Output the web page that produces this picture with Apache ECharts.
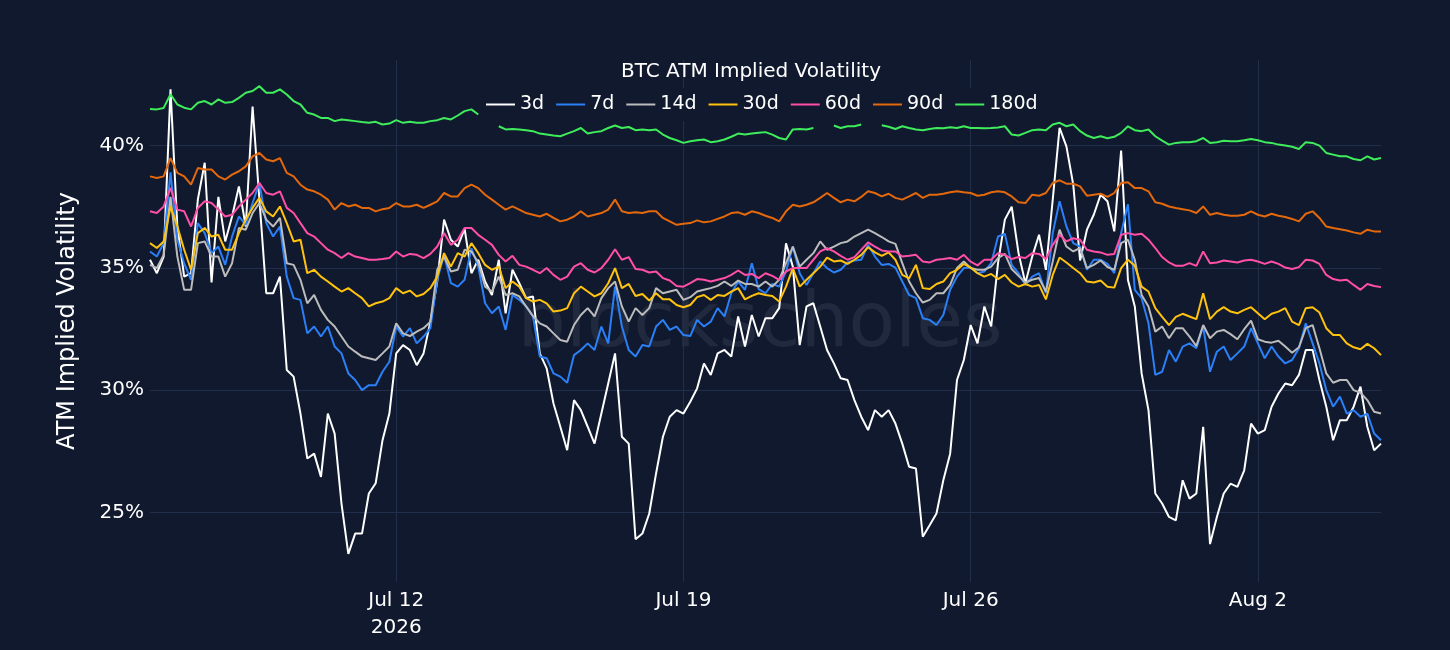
<!DOCTYPE html>
<html lang="en">
<head>
<meta charset="UTF-8">
<title>BTC ATM Implied Volatility</title>
<script src="https://cdn.jsdelivr.net/npm/echarts@6.0.0/dist/echarts.min.js"></script>
<style>
    html, body {
        margin: 0;
        padding: 0;
        background: #10192d;
    }
    #main {
        width: 1450px;
        height: 650px;
    }
</style>
</head>
<body>
<div id="main"></div>
<script type="text/javascript">
    // samples every 4 hours, 2026-07-06 00:00 -> 2026-08-05 00:00
    const startTime = new Date(2026, 6, 6).getTime();
    const stepMs = 4 * 3600 * 1000;

    const tenors = ['3d', '7d', '14d', '30d', '60d', '90d', '180d'];

    const iv3d = [
        35.33, 34.78, 35.46, 42.30, 36.69, 34.64, 34.78, 37.80, 39.30, 34.40,
        37.90, 36.08, 37.10, 38.33, 36.69, 41.60, 37.79, 33.96, 33.96, 34.64,
        30.82, 30.55, 29.04, 27.20, 27.40, 26.45, 29.04, 28.22, 25.36, 23.30,
        24.13, 24.13, 25.77, 26.19, 27.95, 29.04, 31.50, 31.84, 31.64, 31.02,
        31.50, 32.80, 34.44, 36.97, 36.15, 35.87, 36.60, 34.78, 35.33, 34.44,
        33.89, 35.33, 33.14, 34.92, 34.37, 33.76, 33.83, 31.50, 30.89, 29.45,
        28.50, 27.54, 29.59, 29.18, 28.50, 27.81, 29.04, 30.27, 31.50, 28.09,
        27.81, 23.90, 24.13, 24.95, 26.59, 28.09, 28.91, 29.18, 29.04, 29.52,
        30.07, 31.09, 30.62, 31.50, 31.64, 31.37, 33.01, 31.78, 33.07, 32.19,
        32.94, 32.94, 33.35, 36.00, 35.05, 31.84, 33.42, 33.55, 32.60, 31.64,
        31.09, 30.48, 30.41, 29.59, 28.91, 28.36, 29.18, 28.91, 29.18, 28.63,
        27.81, 26.86, 26.79, 24.00, 24.47, 24.95, 26.31, 27.40, 30.41, 31.23,
        32.66, 31.91, 33.42, 32.60, 35.19, 36.97, 37.50, 35.60, 34.37, 35.46,
        36.35, 34.92, 37.79, 40.72, 39.97, 38.40, 35.30, 36.56, 37.17, 37.99,
        37.72, 36.49, 39.80, 34.50, 33.42, 30.68, 29.18, 25.77, 25.36, 24.81,
        24.67, 26.31, 25.56, 25.77, 28.50, 23.70, 24.81, 25.77, 26.17, 26.04,
        26.72, 28.63, 28.22, 28.36, 29.32, 29.86, 30.27, 30.20, 30.62, 31.64,
        31.64, 30.41, 29.32, 27.95, 28.77, 28.77, 29.32, 30.14, 28.50, 27.54,
        27.81
    ];
    const iv7d = [
        35.67, 35.46, 36.01, 38.90, 36.15, 35.18, 34.51, 36.83, 36.42, 35.60,
        35.87, 35.12, 36.28, 37.10, 36.76, 37.65, 38.47, 36.83, 36.28, 36.69,
        34.64, 33.76, 33.69, 32.32, 32.60, 32.19, 32.60, 31.78, 31.50, 30.68,
        30.41, 30.00, 30.20, 30.20, 30.75, 31.16, 32.60, 32.19, 32.53, 31.91,
        32.19, 32.53, 34.51, 35.53, 34.37, 34.23, 34.51, 35.80, 35.05, 33.55,
        33.14, 33.42, 32.46, 33.89, 33.69, 33.42, 33.01, 31.37, 31.30, 30.68,
        30.55, 30.30, 31.43, 31.64, 31.91, 31.64, 32.60, 31.91, 34.23, 32.60,
        31.64, 31.37, 31.84, 31.78, 32.60, 32.87, 32.46, 32.60, 32.25, 32.21,
        32.87, 32.60, 32.80, 33.35, 33.01, 33.96, 34.44, 34.10, 35.19, 34.13,
        33.96, 34.34, 34.23, 34.85, 35.87, 34.78, 34.30, 34.78, 35.26, 34.99,
        34.81, 34.92, 35.22, 35.30, 35.33, 35.94, 35.46, 35.12, 35.16, 35.01,
        34.44, 33.89, 33.76, 32.94, 32.87, 32.66, 33.07, 34.10, 34.64, 34.99,
        35.01, 34.78, 34.85, 35.19, 36.28, 36.39, 35.12, 34.78, 34.30, 34.64,
        34.78, 33.96, 36.42, 37.72, 36.69, 36.01, 35.87, 34.92, 35.33, 35.33,
        35.16, 34.78, 36.42, 37.60, 34.10, 33.76, 32.73, 30.62, 30.75, 31.64,
        31.16, 31.78, 31.91, 31.71, 32.60, 30.75, 31.57, 31.78, 31.23, 31.50,
        31.78, 32.53, 31.91, 31.30, 31.78, 31.37, 31.09, 31.23, 31.71, 32.73,
        31.91, 31.09, 30.00, 29.32, 29.73, 29.04, 29.18, 28.91, 29.04, 28.22,
        27.95
    ];
    const iv14d = [
        35.12, 34.99, 35.53, 37.90, 35.46, 34.10, 34.10, 36.01, 36.08, 35.46,
        35.46, 34.64, 35.19, 36.63, 36.56, 37.24, 37.65, 36.97, 36.69, 37.04,
        35.19, 35.12, 34.51, 33.55, 33.89, 33.28, 32.87, 32.60, 32.19, 31.78,
        31.57, 31.37, 31.30, 31.23, 31.50, 31.78, 32.73, 32.32, 32.21, 32.39,
        32.53, 32.80, 34.92, 35.46, 34.85, 34.92, 35.74, 35.67, 35.22, 34.23,
        34.03, 34.64, 33.89, 33.96, 33.83, 33.42, 33.03, 32.73, 32.60, 32.32,
        32.05, 31.98, 32.66, 33.07, 33.35, 33.01, 33.76, 34.17, 34.44, 33.42,
        32.80, 33.35, 33.07, 33.35, 34.17, 33.96, 34.03, 34.10, 33.69, 33.80,
        34.03, 34.10, 34.17, 34.26, 34.44, 34.26, 34.48, 34.34, 34.34, 34.23,
        34.44, 34.23, 34.51, 35.19, 35.87, 35.05, 35.33, 35.60, 36.08, 35.74,
        35.87, 36.01, 36.08, 36.28, 36.42, 36.56, 36.42, 36.26, 36.08, 35.98,
        35.19, 34.44, 33.96, 33.58, 33.69, 33.96, 33.96, 34.30, 34.99, 35.26,
        34.99, 34.92, 34.92, 35.05, 35.40, 35.57, 34.95, 34.67, 34.40, 34.51,
        34.58, 34.03, 35.26, 36.56, 35.87, 35.67, 35.81, 34.99, 35.12, 35.30,
        35.03, 34.92, 36.01, 36.15, 35.33, 33.89, 33.42, 32.39, 32.60, 32.12,
        32.53, 32.53, 32.19, 31.80, 32.66, 32.12, 32.39, 32.46, 32.29, 32.08,
        32.49, 32.84, 32.08, 31.98, 31.94, 32.02, 31.78, 31.53, 31.75, 32.53,
        32.66, 31.71, 30.68, 30.30, 30.41, 30.41, 30.00, 29.89, 29.59, 29.11,
        29.04
    ];
    const iv30d = [
        36.01, 35.81, 36.08, 37.50, 36.70, 35.74, 34.92, 36.42, 36.63, 36.28,
        36.35, 35.74, 35.74, 36.42, 36.97, 37.45, 37.86, 37.31, 37.10, 37.51,
        36.83, 36.08, 36.15, 34.78, 34.92, 34.64, 34.44, 34.23, 34.03, 34.17,
        33.96, 33.76, 33.42, 33.55, 33.62, 33.76, 34.17, 33.96, 34.07, 33.83,
        33.93, 34.17, 34.64, 35.60, 35.05, 35.60, 35.46, 36.01, 35.60, 35.12,
        34.92, 35.05, 34.17, 34.44, 34.23, 33.76, 33.62, 33.69, 33.55, 33.21,
        33.25, 33.35, 33.96, 34.23, 34.03, 33.83, 33.96, 34.37, 34.99, 34.17,
        34.34, 33.85, 33.93, 33.66, 33.96, 33.71, 33.71, 33.48, 33.39, 33.48,
        33.80, 33.89, 33.69, 33.89, 33.85, 34.03, 34.17, 33.71, 33.85, 33.96,
        33.89, 33.85, 33.62, 34.23, 34.99, 34.23, 34.51, 34.78, 35.05, 35.42,
        35.26, 35.30, 35.16, 35.33, 35.53, 35.84, 35.63, 35.49, 35.63, 35.33,
        34.71, 34.57, 35.12, 34.17, 34.13, 34.34, 34.44, 34.78, 34.92, 35.16,
        35.01, 34.78, 34.64, 34.75, 34.54, 34.71, 34.40, 34.23, 34.34, 34.23,
        34.30, 33.71, 34.71, 35.42, 35.22, 34.99, 34.78, 34.44, 34.40, 34.48,
        34.23, 34.19, 34.99, 35.33, 35.08, 34.23, 34.03, 33.35, 32.99, 32.66,
        32.99, 33.12, 33.01, 32.90, 33.96, 32.90, 33.21, 33.39, 33.21, 33.14,
        33.28, 33.39, 33.14, 32.90, 33.12, 33.21, 33.35, 32.80, 32.66, 33.35,
        33.39, 33.17, 32.53, 32.25, 32.25, 31.91, 31.75, 31.67, 31.89, 31.71,
        31.43
    ];
    const iv60d = [
        37.31, 37.24, 37.51, 38.27, 37.38, 37.31, 36.69, 37.45, 37.72, 37.65,
        37.38, 37.10, 37.17, 37.51, 37.79, 38.06, 38.47, 38.06, 37.99, 38.13,
        37.45, 37.24, 36.83, 36.42, 36.28, 36.01, 35.74, 35.60, 35.40, 35.60,
        35.46, 35.40, 35.33, 35.33, 35.36, 35.40, 35.67, 35.46, 35.57, 35.53,
        35.40, 35.57, 35.87, 36.42, 35.94, 36.15, 36.63, 36.63, 36.35, 36.15,
        35.94, 35.53, 35.26, 35.49, 35.12, 35.05, 34.92, 34.78, 34.99, 34.71,
        34.51, 34.64, 35.05, 35.19, 34.92, 34.81, 34.99, 35.33, 35.76, 35.33,
        35.44, 34.95, 34.92, 34.81, 34.85, 34.58, 34.48, 34.26, 34.23, 34.37,
        34.54, 34.51, 34.44, 34.51, 34.58, 34.71, 34.89, 34.71, 34.75, 34.58,
        34.78, 34.67, 34.51, 34.85, 34.99, 34.99, 34.99, 35.33, 35.67, 35.80,
        35.67, 35.49, 35.33, 35.44, 35.74, 36.04, 35.87, 35.71, 35.67, 35.67,
        35.46, 35.49, 35.53, 35.26, 35.22, 35.33, 35.36, 35.40, 35.33, 35.53,
        35.25, 35.10, 35.33, 35.33, 35.60, 35.53, 35.36, 35.44, 35.40, 35.60,
        35.57, 35.36, 35.94, 36.35, 36.08, 36.21, 36.15, 35.74, 35.67, 35.63,
        35.53, 35.57, 36.35, 36.42, 36.35, 36.39, 36.15, 35.81, 35.44, 35.22,
        35.08, 35.08, 35.19, 35.08, 35.67, 35.19, 35.22, 35.30, 35.26, 35.22,
        35.30, 35.33, 35.26, 35.16, 35.26, 35.16, 35.01, 34.95, 35.03, 35.33,
        35.30, 35.16, 34.71, 34.54, 34.48, 34.51, 34.30, 34.10, 34.34, 34.26,
        34.21
    ];
    const iv90d = [
        38.74, 38.67, 38.74, 39.49, 38.88, 38.74, 38.40, 39.08, 39.02, 39.02,
        38.74, 38.61, 38.81, 38.95, 39.15, 39.56, 39.70, 39.43, 39.36, 39.49,
        38.88, 38.74, 38.40, 38.20, 38.13, 37.99, 37.79, 37.38, 37.65, 37.51,
        37.58, 37.45, 37.45, 37.31, 37.40, 37.45, 37.65, 37.51, 37.51, 37.58,
        37.45, 37.58, 37.72, 38.06, 37.92, 37.92, 38.26, 38.40, 38.26, 37.99,
        37.79, 37.58, 37.38, 37.51, 37.38, 37.24, 37.17, 37.10, 37.21, 37.04,
        36.90, 36.97, 37.10, 37.31, 37.10, 37.17, 37.24, 37.38, 37.79, 37.31,
        37.24, 37.27, 37.24, 37.31, 37.31, 37.04, 36.90, 36.76, 36.80, 36.83,
        36.94, 36.86, 36.90, 37.00, 37.10, 37.24, 37.27, 37.17, 37.31, 37.24,
        37.13, 37.04, 36.90, 37.31, 37.58, 37.51, 37.58, 37.68, 37.86, 38.06,
        37.86, 37.68, 37.79, 37.72, 37.90, 38.13, 38.06, 37.92, 38.03, 37.86,
        37.79, 37.92, 38.06, 37.86, 37.99, 37.99, 38.03, 38.09, 38.13, 38.09,
        38.06, 37.95, 37.99, 38.09, 38.13, 38.09, 37.92, 37.68, 37.65, 37.99,
        37.95, 38.06, 38.47, 38.58, 38.44, 38.44, 38.33, 37.95, 37.99, 38.03,
        37.90, 38.06, 38.47, 38.50, 38.26, 38.26, 38.13, 37.68, 37.62, 37.51,
        37.45, 37.40, 37.35, 37.24, 37.51, 37.17, 37.24, 37.17, 37.13, 37.13,
        37.17, 37.31, 37.17, 37.10, 37.21, 37.13, 37.08, 37.00, 36.90, 37.21,
        37.31, 37.04, 36.69, 36.63, 36.58, 36.53, 36.45, 36.39, 36.56, 36.49,
        36.49
    ];
    const iv180d = [
        41.50, 41.48, 41.54, 42.10, 41.68, 41.55, 41.48, 41.75, 41.82, 41.68,
        41.89, 41.75, 41.78, 41.95, 42.16, 42.23, 42.43, 42.16, 42.16, 42.30,
        42.09, 41.82, 41.68, 41.34, 41.27, 41.13, 41.13, 41.00, 41.07, 41.04,
        41.00, 40.96, 40.93, 40.97, 40.86, 40.90, 41.04, 40.93, 40.97, 40.93,
        40.93, 41.00, 41.04, 41.13, 41.07, 41.23, 41.41, 41.48, 41.27, null,
        null, 40.79, 40.66, 40.68, 40.66, 40.63, 40.59, 40.49, 40.45, 40.41,
        40.38, 40.49, 40.59, 40.72, 40.49, 40.55, 40.59, 40.72, 40.82, 40.72,
        40.76, 40.63, 40.66, 40.63, 40.66, 40.45, 40.31, 40.22, 40.11, 40.18,
        40.22, 40.25, 40.14, 40.18, 40.25, 40.36, 40.49, 40.45, 40.49, 40.52,
        40.55, 40.45, 40.31, 40.25, 40.66, 40.68, 40.66, 40.72, null, null,
        40.82, 40.72, 40.79, 40.79, 40.86, null, null, 40.83, 40.77, 40.68,
        40.79, 40.72, 40.66, 40.63, 40.68, 40.72, 40.71, 40.75, 40.72, 40.79,
        40.72, 40.72, 40.71, 40.72, 40.74, 40.79, 40.45, 40.41, 40.52, 40.63,
        40.66, 40.63, 40.86, 40.93, 40.79, 40.86, 40.59, 40.41, 40.31, 40.38,
        40.30, 40.36, 40.52, 40.79, 40.63, 40.59, 40.66, 40.38, 40.20, 40.04,
        40.11, 40.14, 40.14, 40.18, 40.31, 40.11, 40.14, 40.20, 40.18, 40.18,
        40.22, 40.27, 40.22, 40.14, 40.11, 40.04, 40.00, 39.95, 39.86, 40.14,
        40.11, 40.00, 39.70, 39.63, 39.56, 39.56, 39.45, 39.40, 39.56, 39.43,
        39.49
    ];

    const colors = ['#ffffff', '#2b80f7', '#bcbcbc', '#ffc20e', '#ff4fa7', '#e4680c', '#3fec5b'];

    // week ticks on the x axis (timestamps)
    const xTicks = [
        new Date(2026, 6, 12).getTime(),
        new Date(2026, 6, 19).getTime(),
        new Date(2026, 6, 26).getTime(),
        new Date(2026, 7, 2).getTime()
    ];
    const yTicks = [25, 30, 35, 40];
    const monthNames = ['Jan', 'Feb', 'Mar', 'Apr', 'May', 'Jun', 'Jul', 'Aug', 'Sep', 'Oct', 'Nov', 'Dec'];

    const bg = '#10192d';
    const gridColor = '#222f4b';
    const font = '"DejaVu Sans", Verdana, sans-serif';

    const allValues = [iv3d, iv7d, iv14d, iv30d, iv60d, iv90d, iv180d];
    const times = iv3d.map((v, k) => startTime + k * stepMs);

    const myChart = echarts.init(document.getElementById('main'));

    const option = {
        backgroundColor: bg,
        animation: false,
        title: {
            text: 'BTC ATM Implied Volatility',
            left: 621,
            top: 62,
            padding: 0,
            textStyle: {
                color: '#ffffff',
                fontSize: 20,
                fontWeight: 'normal',
                fontFamily: font
            }
        },
        legend: {
            data: tenors,
            left: 482,
            top: 88,
            padding: [7, 4, 7, 4],
            backgroundColor: bg,
            icon: 'rect',
            itemWidth: 29,
            itemHeight: 2,
            itemGap: 12,
            textStyle: {
                color: '#ffffff',
                fontSize: 19,
                fontFamily: font
            }
        },
        graphic: [
            {
                type: 'text',
                x: 760,
                y: 326,
                z: 0,
                silent: true,
                style: {
                    text: 'blockscholes',
                    font: '76px "DejaVu Sans"',
                    fill: 'rgba(205, 215, 235, 0.09)',
                    align: 'center',
                    verticalAlign: 'middle'
                }
            }
        ],
        grid: {
            left: 150,
            right: 69,
            top: 60,
            bottom: 68
        },
        xAxis: {
            type: 'value',
            min: startTime,
            max: startTime + 30 * 24 * 3600 * 1000,
            axisLine: { show: false },
            axisTick: { show: false, customValues: xTicks },
            splitLine: { show: true, lineStyle: { color: gridColor, width: 1 } },
            axisLabel: {
                customValues: xTicks,
                color: '#ffffff',
                fontSize: 20,
                fontFamily: font,
                lineHeight: 27,
                margin: 5,
                hideOverlap: false,
                formatter: function (value) {
                    const d = new Date(value);
                    let s = monthNames[d.getMonth()] + ' ' + d.getDate();
                    if (value === xTicks[0]) {
                        s += '\n' + d.getFullYear();
                    }
                    return s;
                }
            }
        },
        yAxis: {
            type: 'value',
            min: 22.15,
            max: 43.5,
            name: 'ATM Implied Volatility',
            nameLocation: 'middle',
            nameGap: 70,
            nameTextStyle: {
                color: '#ffffff',
                fontSize: 24,
                fontFamily: font
            },
            axisLine: { show: false },
            axisTick: { show: false, customValues: yTicks },
            splitLine: { show: true, lineStyle: { color: gridColor, width: 1 } },
            axisLabel: {
                customValues: yTicks,
                color: '#ffffff',
                fontSize: 20,
                fontFamily: font,
                margin: 6,
                formatter: function (v) {
                    return v + '%';
                }
            }
        },
        tooltip: { show: false },
        series: tenors.map(function (name, i) {
            return {
                name: name,
                type: 'line',
                showSymbol: false,
                symbol: 'none',
                connectNulls: false,
                lineStyle: { width: 2, color: colors[i] },
                itemStyle: { color: colors[i] },
                data: times.map((t, k) => [t, allValues[i][k]])
            };
        })
    };

    myChart.setOption(option);
</script>
</body>
</html>
